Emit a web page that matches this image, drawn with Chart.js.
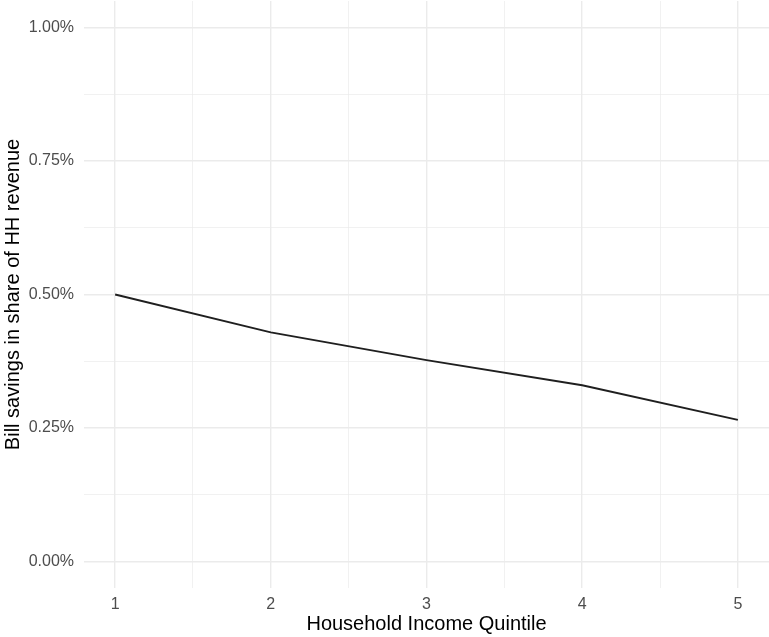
<!DOCTYPE html>
<html>
<head>
<meta charset="utf-8">
<script src="https://cdn.jsdelivr.net/npm/chart.js@4/dist/chart.umd.min.js"></script>
<style>
  html, body { margin: 0; padding: 0; background: #ffffff; }
  #wrap { width: 769px; height: 637px; }
</style>
</head>
<body>
<div id="wrap"><canvas id="c" width="769" height="637"></canvas></div>
<script>
// Data
const quintiles = [1, 2, 3, 4, 5];
const billSavingsPct = [0.500, 0.429, 0.377, 0.330, 0.265];
const xTickValues = [1, 1.5, 2, 2.5, 3, 3.5, 4, 4.5, 5];
const yTickValues = [0, 0.125, 0.25, 0.375, 0.5, 0.625, 0.75, 0.875, 1.0];

const FONT = "'Liberation Sans', Arial, Helvetica, sans-serif";

function isMajor(v, step) {
  return Math.abs(v / step - Math.round(v / step)) < 1e-6;
}

const ctx = document.getElementById('c').getContext('2d');
new Chart(ctx, {
  type: 'line',
  data: {
    datasets: [{
      data: quintiles.map((q, i) => ({ x: q, y: billSavingsPct[i] })),
      borderColor: '#1f1f1f',
      borderWidth: 1.9,
      pointRadius: 0,
      fill: false,
      tension: 0
    }]
  },
  options: {
    responsive: false,
    devicePixelRatio: 1,
    animation: false,
    layout: { padding: { top: 1, right: 0, bottom: 0, left: 0 } },
    plugins: { legend: { display: false }, tooltip: { enabled: false } },
    scales: {
      x: {
        type: 'linear',
        min: 0.8,
        max: 5.2,
        afterBuildTicks: s => { s.ticks = xTickValues.map(v => ({ value: v })); },
        afterFit: s => { s.height = 49; s.paddingLeft = 0; s.paddingRight = 0; },
        border: { display: false },
        grid: {
          drawTicks: false,
          color: '#ebebeb',
          lineWidth: c => isMajor(c.tick.value, 1) ? 1.4 : 0.7
        },
        ticks: {
          autoSkip: false,
          maxRotation: 0,
          padding: 7,
          color: '#4d4d4d',
          font: { family: FONT, size: 16 },
          callback: v => isMajor(v, 1) ? String(Math.round(v)) : ''
        },
        title: {
          display: true,
          text: 'Household Income Quintile',
          color: '#000000',
          font: { family: FONT, size: 20 },
          padding: { top: 0, bottom: 1 }
        }
      },
      y: {
        type: 'linear',
        min: -0.05,
        max: 1.05,
        afterBuildTicks: s => { s.ticks = yTickValues.map(v => ({ value: v })); },
        afterFit: s => { s.width = 84; s.paddingTop = 0; s.paddingBottom = 0; },
        border: { display: false },
        grid: {
          drawTicks: false,
          color: '#ebebeb',
          lineWidth: c => isMajor(c.tick.value, 0.25) ? 1.4 : 0.7
        },
        ticks: {
          autoSkip: false,
          padding: 10,
          color: '#4d4d4d',
          font: { family: FONT, size: 16 },
          callback: v => isMajor(v, 0.25) ? v.toFixed(2) + '%' : ''
        },
        title: {
          display: true,
          text: 'Bill savings in share of HH revenue',
          color: '#000000',
          font: { family: FONT, size: 20 },
          padding: { top: 1, bottom: 0 }
        }
      }
    }
  }
});
</script>
</body>
</html>
